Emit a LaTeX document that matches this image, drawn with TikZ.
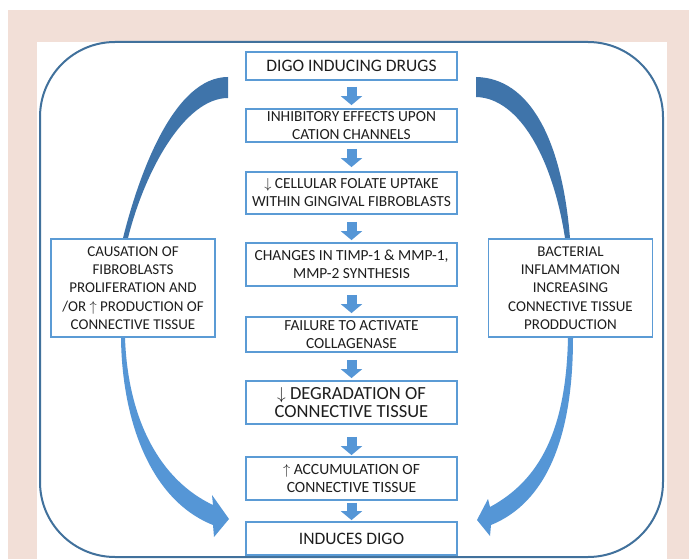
\documentclass[tikz,border=0pt]{standalone}
\usepackage{fontspec}
\setmainfont{Carlito}
\usetikzlibrary{arrows.meta}
\definecolor{bgpink}{HTML}{F2DFD7}
\definecolor{frameblue}{HTML}{41719C}
\definecolor{boxblue}{HTML}{5B9BD5}
\definecolor{wedgeblue}{HTML}{3F74AA}
\definecolor{arrblue}{HTML}{5596D6}
\definecolor{txtgray}{HTML}{1E1E1E}
\begin{document}
\begin{tikzpicture}[x=1pt,y=-1pt,
  flowbox/.style={draw=boxblue, line width=1.8pt, fill=white, minimum width=211pt,
    align=center, inner sep=0pt, text=txtgray, font=\fontsize{15.4}{18}\selectfont},
  sidebox/.style={flowbox, minimum width=164pt, minimum height=98pt, font=\fontsize{15}{18.3}\selectfont},
  bigtext/.style={font=\fontsize{17.5}{18}\selectfont},
  flowarrow/.style={arrblue, line width=10pt, -{Triangle[width=21pt,length=9pt]}},
  bentarrow/.style={fill=arrblue},
  wedge/.style={fill=wedgeblue}]
\useasboundingbox (0,0) rectangle (689,559);
% background
\fill [bgpink] (8,10) rectangle (689,559);
\fill [white] (37,42) rectangle (667,559);
\draw [frameblue, line width=2pt, rounded corners=75pt] (40,42) rectangle (663,557);
% central chain
\node [flowbox, bigtext, minimum height=28pt] (drugs) at (351.5,66) {DIGO INDUCING DRUGS};
\node [flowbox, minimum height=33pt] (inhib) at (351.5,125.5) {INHIBITORY EFFECTS UPON\\CATION CHANNELS};
\node [flowbox, minimum height=42pt] (folate) at (351.5,193) {$\downarrow$ CELLULAR FOLATE UPTAKE\\WITHIN GINGIVAL FIBROBLASTS};
\node [flowbox, minimum height=43pt] (timp) at (351.5,264.5) {CHANGES IN TIMP-1 \& MMP-1,\\MMP-2 SYNTHESIS};
\node [flowbox, minimum height=35pt] (collag) at (351.5,334.5) {FAILURE TO ACTIVATE\\COLLAGENASE};
\node [flowbox, font=\fontsize{18.5}{18}\selectfont, minimum height=43pt] (degrad) at (351.5,402.5) {$\downarrow$ DEGRADATION OF\\CONNECTIVE TISSUE};
\node [flowbox, font=\fontsize{15.6}{18}\selectfont, minimum height=43pt] (accum) at (351.5,478.5) {$\uparrow$ ACCUMULATION OF\\CONNECTIVE TISSUE};
\node [flowbox, bigtext, minimum height=33pt] (digo) at (351.5,538.5) {INDUCES DIGO};
% side boxes
\node [sidebox] (cause) at (133,288) {CAUSATION OF\\FIBROBLASTS\\PROLIFERATION AND\\/OR $\uparrow$ PRODUCTION OF\\CONNECTIVE TISSUE};
\node [sidebox] (bact) at (570.5,288) {BACTERIAL\\INFLAMMATION\\INCREASING\\CONNECTIVE TISSUE\\PRODDUCTION};
% arrows of the chain
\foreach \a/\b/\s/\e in {drugs/inhib/6pt/3pt, inhib/folate/6pt/4pt, folate/timp/7pt/2pt,
    timp/collag/8pt/3pt, collag/degrad/7pt/2pt, degrad/accum/12pt/1pt, accum/digo/2pt/1pt}
  \draw [flowarrow, shorten <=\s, shorten >=\e] (\a.south) -- (\b.north);
% wedges at the top
\fill [wedge] (228,77) .. controls (175,77) and (140,170) .. (123,238)
  -- (128,238) .. controls (145,170) and (185,98) .. (228,98) -- cycle;
\fill [wedge] (476,77) .. controls (530,78) and (562,140) .. (570,238)
  -- (565,238) .. controls (553,160) and (520,98) .. (476,97) -- cycle;
% bent arrows at the bottom
\fill [bentarrow] (121,338) .. controls (122,420) and (150,500) .. (213,525)
  -- (214,537) -- (229,519) -- (212,495) -- (213,505)
  .. controls (160,480) and (128,420) .. (125,338) -- cycle;
\fill [bentarrow] (573,338) .. controls (573,440) and (545,503) .. (491,525)
  -- (490,536) -- (477,520) -- (488,499) -- (490,507)
  .. controls (540,480) and (566,430) .. (568,338) -- cycle;
\end{tikzpicture}
\end{document}
